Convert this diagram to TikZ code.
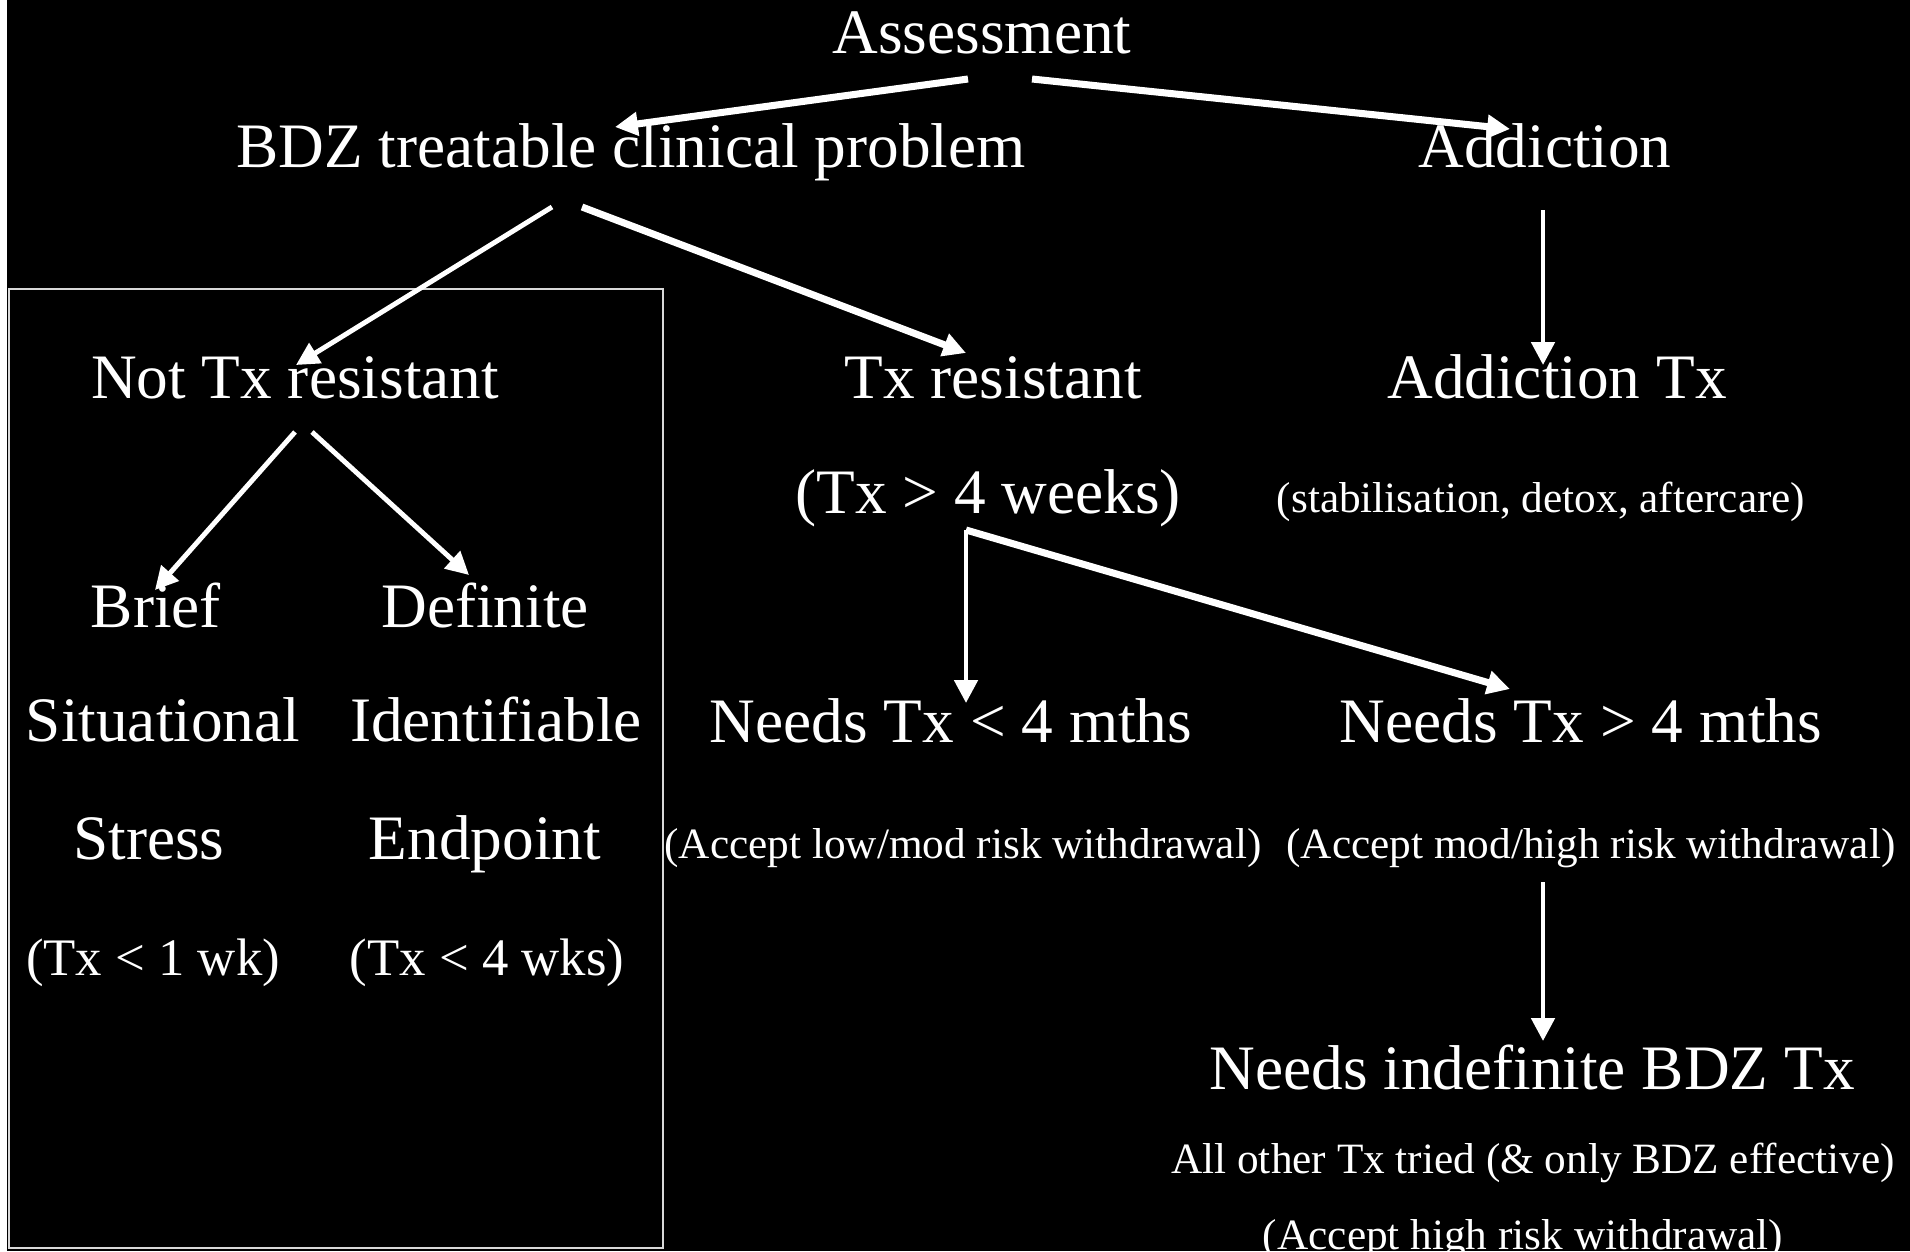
\documentclass[tikz,border=0pt]{standalone}
\usepackage{fontspec}
\setmainfont{Liberation Serif}
\usetikzlibrary{calc,arrows.meta,positioning}

\begin{document}
\begin{tikzpicture}[
    x=0.01cm, y=-0.01cm,
    lbl/.style={text=white, inner sep=0pt, anchor=base, font=\fontsize{18}{21}\selectfont},
    sub/.style={lbl, font=\fontsize{15}{18}\selectfont},
    note/.style={lbl, font=\fontsize{12.3}{15}\selectfont},
    link/.style={draw=white, line width=1.4pt, -{Triangle[length=6.5pt, width=6.5pt]}},
    boldlink/.style={link, line width=2pt},
  ]
  % Background and box
  \useasboundingbox (0,0) rectangle (1910,1251);
  \fill[black] (7,0) rectangle (1910,1251);
  \draw[white!85!black, line width=0.8pt] (9,289) rectangle (663,1248);

  % Top levels
  \node[lbl] (assess) at (982,53) {Assessment};
  \node[lbl] (bdz) at (631,167) {BDZ treatable clinical problem};
  \node[lbl] (addict) at (1545,167) {Addiction};

  % Second level
  \node[lbl] (nottx) at (295,398) {Not Tx resistant};
  \node[lbl] (txres) at (993,398) {Tx resistant};
  \node[lbl] (txweeks) at (988,513) {(Tx > 4 weeks)};
  \node[lbl] (addtx) at (1557,398) {Addiction Tx};
  \node[note] (stab) at (1541,512) {(stabilisation, detox, aftercare)};

  % Inside the box
  \node[lbl] (brief) at (156,627) {Brief};
  \node[lbl] (situ) at (163,741) {Situational};
  \node[lbl] (stress) at (149,859) {Stress};
  \node[sub] (wkone) at (153,975) {(Tx < 1 wk)};
  \node[lbl] (definite) at (485,627) {Definite};
  \node[lbl] (ident) at (496,741) {Identifiable};
  \node[lbl] (endpt) at (485,859) {Endpoint};
  \node[sub] (wkfour) at (487,975) {(Tx < 4 wks)};

  % Treatment length
  \node[lbl] (ltfour) at (951,742) {Needs Tx < 4 mths};
  \node[note] (lowmod) at (963,858) {(Accept low/mod risk withdrawal)};
  \node[lbl] (gtfour) at (1581,742) {Needs Tx > 4 mths};
  \node[note] (modhigh) at (1591,858) {(Accept mod/high risk withdrawal)};

  % Indefinite
  \node[lbl] (indef) at (1532,1089) {Needs indefinite BDZ Tx};
  \node[note] (allother) at (1533,1173) {All other Tx tried (\& only BDZ effective)};
  \node[note] (highrisk) at (1523,1249) {(Accept high risk withdrawal)};

  % Arrows
  \draw[boldlink] ($(assess.base)+(-14,26)$) -- ($(bdz.base)+(-16,-40)$);
  \draw[boldlink] ($(assess.base)+(50,26)$) -- ($(addict.base)+(-35,-38)$);
  \draw[link] ($(bdz.base)+(-79,40)$) -- ($(nottx.base)+(1,-33)$);
  \draw[boldlink] ($(bdz.base)+(-49,40)$) -- ($(txres.base)+(-27,-45)$);
  \draw[link] ($(addict.base)+(-2,43)$) -- ($(addtx.base)+(-14,-33)$);
  \draw[link] ($(nottx.base)+(0,34)$) -- ($(brief.base)+(-1,-37)$);
  \draw[link] ($(nottx.base)+(17,34)$) -- ($(definite.base)+(-16,-52)$);

  % Split below Tx resistant
  \coordinate (fork) at ($(txweeks.base)+(-22,17)$);
  \draw[link] (fork) -- ($(ltfour.base)+(15,-39)$);
  \draw[boldlink] (fork) -- ($(gtfour.base)+(-71,-53)$);

  \draw[link] ($(modhigh.base)+(-48,24)$) -- ($(indef.base)+(11,-48)$);
\end{tikzpicture}
\end{document}
